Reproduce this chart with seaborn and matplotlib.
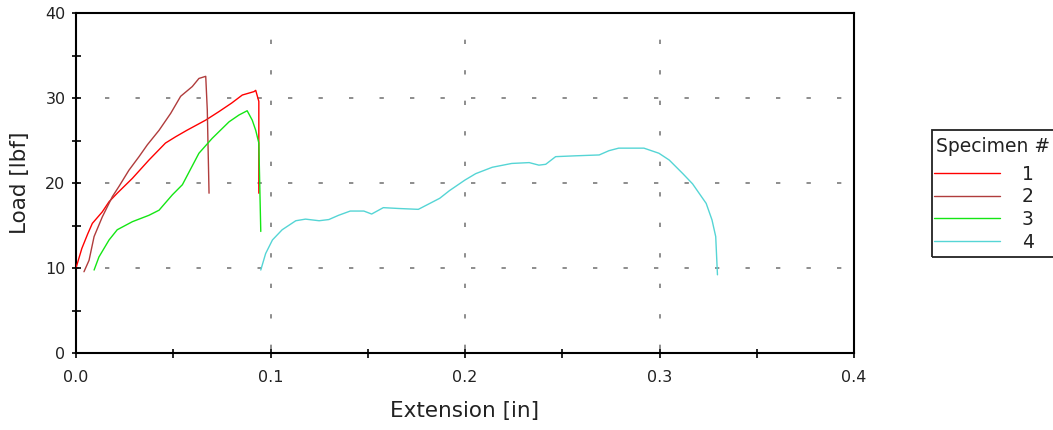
import numpy as np
import pandas as pd
import matplotlib
matplotlib.use("Agg")
import matplotlib.pyplot as plt
import matplotlib.patches as mpatches
import matplotlib.transforms as mtransforms
import seaborn as sns
from matplotlib.ticker import MultipleLocator, FormatStrFormatter

# Load–extension curves for four tensile specimens
ext_1 = [0.0, 0.0030, 0.0060, 0.0084, 0.0135, 0.0170, 0.0212, 0.0290, 0.0375, 0.0460,
         0.0513, 0.0570, 0.0667, 0.0735, 0.0800, 0.0855, 0.0915, 0.0924, 0.0940, 0.0940]
load_1 = [10.0, 12.3, 14.0, 15.25, 16.6, 17.8, 18.8, 20.55, 22.7, 24.7,
          25.45, 26.2, 27.4, 28.4, 29.4, 30.35, 30.75, 30.9, 29.6, 18.8]

ext_2 = [0.0041, 0.0067, 0.0093, 0.0135, 0.0187, 0.0221, 0.0272, 0.0324, 0.0367, 0.0427,
         0.0487, 0.0538, 0.0598, 0.0632, 0.0667, 0.0675, 0.0684]
load_2 = [9.56, 10.9, 13.7, 16.0, 18.4, 19.6, 21.5, 23.1, 24.5, 26.2,
          28.2, 30.2, 31.35, 32.3, 32.55, 28.6, 18.8]

ext_3 = [0.0093, 0.0118, 0.0170, 0.0212, 0.0290, 0.0375, 0.0427, 0.0495, 0.0547, 0.0632,
         0.0700, 0.0787, 0.0838, 0.0880, 0.0906, 0.0924, 0.0940, 0.0950]
load_3 = [9.76, 11.3, 13.3, 14.5, 15.45, 16.2, 16.8, 18.6, 19.8, 23.5,
          25.25, 27.2, 28.0, 28.5, 27.4, 26.2, 24.7, 14.3]

ext_4 = [0.0950, 0.0975, 0.1010, 0.1060, 0.1130, 0.1180, 0.1250, 0.1300, 0.1350, 0.1410,
         0.1480, 0.1520, 0.1580, 0.1660, 0.1760, 0.1870, 0.1920, 0.2000, 0.2055, 0.2140,
         0.2240, 0.2330, 0.2380, 0.2415, 0.2466, 0.2570, 0.2690, 0.2740, 0.2790, 0.2920,
         0.2997, 0.3050, 0.3120, 0.3170, 0.3240, 0.3270, 0.3289, 0.3298]
load_4 = [9.76, 11.7, 13.3, 14.5, 15.56, 15.75, 15.56, 15.7, 16.2, 16.7,
          16.7, 16.35, 17.1, 17.0, 16.9, 18.2, 19.1, 20.35, 21.1, 21.85,
          22.3, 22.4, 22.1, 22.2, 23.1, 23.2, 23.3, 23.8, 24.1, 24.1,
          23.5, 22.7, 21.1, 19.9, 17.6, 15.65, 13.7, 9.2]

specimens = ["1", "2", "3", "4"]
colors = ["#ff0000", "#b03c3c", "#14e614", "#55d5d5"]

frames = []
for name, xs, ys in zip(specimens, [ext_1, ext_2, ext_3, ext_4], [load_1, load_2, load_3, load_4]):
    frames.append(pd.DataFrame({"Extension": xs, "Load": ys, "Specimen": name}))
df = pd.concat(frames, ignore_index=True)

sns.set_style("white")
plt.rcParams["font.family"] = ["DejaVu Sans"]
text_color = "#222222"

W, H = 1053, 430
fig = plt.figure(figsize=(W / 100, H / 100), dpi=100)
ax = fig.add_axes([76 / W, 1 - 353 / H, (854 - 76) / W, (353 - 13) / H])

sns.lineplot(data=df, x="Extension", y="Load", hue="Specimen", palette=colors,
             sort=False, estimator=None, units="Specimen", linewidth=1.0, ax=ax,
             legend=True, zorder=3)

x_lim, y_lim = (0, 0.4), (0, 40)
ax.set_xlim(*x_lim)
ax.set_ylim(*y_lim)

# labelled ticks every 0.1 in / 10 lbf; tick marks every 0.05 in / 5 lbf
ax.xaxis.set_major_locator(MultipleLocator(0.1))
ax.yaxis.set_major_locator(MultipleLocator(10))
ax.xaxis.set_major_formatter(FormatStrFormatter("%.1f"))
ax.yaxis.set_major_formatter(FormatStrFormatter("%d"))
mark_x = MultipleLocator(0.05).tick_values(*x_lim)
mark_y = MultipleLocator(5).tick_values(*y_lim)
mark_x = mark_x[(mark_x > x_lim[0] - 1e-9) & (mark_x < x_lim[1] + 1e-9)]
mark_y = mark_y[(mark_y > y_lim[0] - 1e-9) & (mark_y < y_lim[1] + 1e-9)]

for s in ax.spines.values():
    s.set_visible(True)
    s.set_color("black")
    s.set_linewidth(1.5)

# sparse dashed grid on the inner major ticks (dash pattern scales with line width)
ax.grid(False)
grid_kw = dict(color="#7a7a7a", linewidth=1.2, zorder=1)
for yv in ax.get_yticks():
    if y_lim[0] < yv < y_lim[1]:
        ax.axhline(yv, linestyle=(0.9, (2.6, 15.7)), **grid_kw)
for xv in ax.get_xticks():
    if x_lim[0] < xv < x_lim[1] - 1e-9:
        ax.axvline(xv, linestyle=(15.9, (2.6, 15.7)), **grid_kw)

# tick labels only; the crossing tick marks are drawn as short segments
ax.tick_params(axis="x", which="both", length=0, pad=12, labelsize=11.5, labelcolor=text_color)
ax.tick_params(axis="y", which="both", length=0, pad=7.5, labelsize=11.5, labelcolor=text_color)

tx = mtransforms.blended_transform_factory(ax.transData, ax.transAxes)
ty = mtransforms.blended_transform_factory(ax.transAxes, ax.transData)
ax.vlines(mark_x, -4.5 / 340, 4.5 / 340, transform=tx, colors="black",
          linewidth=1.2, clip_on=False, zorder=4)
ax.hlines(mark_y, -4.5 / 778, 4.5 / 778, transform=ty, colors="black",
          linewidth=1.2, clip_on=False, zorder=4)

ax.set_xlabel("Extension [in]", fontsize=15.5, color=text_color, va="center")
ax.set_ylabel("Load [lbf]", fontsize=15.5, color=text_color, va="center")
ax.xaxis.set_label_coords(0.5, (353 - 411) / 340)
ax.yaxis.set_label_coords((20 - 76) / 778, 0.5)

handles, labels = ax.get_legend_handles_labels()
leg = ax.legend(handles, labels, loc="upper left",
                bbox_to_anchor=(932 / W, 1 - 163 / H), bbox_transform=fig.transFigure,
                frameon=False, fontsize=13.5, handlelength=3.5, handletextpad=1.2,
                labelspacing=0.19, borderpad=0.1, borderaxespad=0)
for t in leg.get_texts():
    t.set_color(text_color)

fig.text(936 / W, 1 - 146 / H, "Specimen #", fontsize=13.5, color=text_color,
         ha="left", va="center")
fig.add_artist(mpatches.Rectangle((931.5 / W, 1 - 257 / H), 140 / W, 127 / H,
                                  transform=fig.transFigure, fill=False,
                                  edgecolor="#222222", linewidth=1.3))

fig.savefig("out.png", dpi=100, facecolor="white")
